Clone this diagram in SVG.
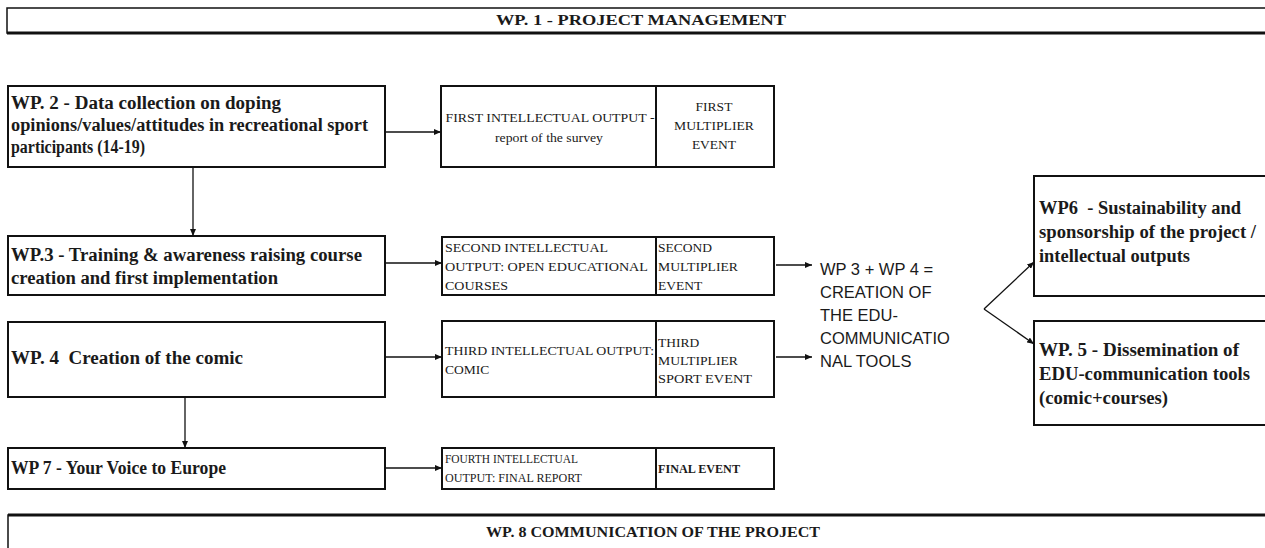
<svg xmlns="http://www.w3.org/2000/svg" width="1265" height="548" viewBox="0 0 1265 548">
  <defs>
    <marker id="arrow" markerWidth="8" markerHeight="6" refX="7" refY="3" orient="auto" markerUnits="userSpaceOnUse">
      <path d="M0,0 L7,3 L0,6 Z" fill="#111"/>
    </marker>
    <style>
      .box { fill: #fff; stroke: #111; stroke-width: 2; }
      .div { stroke: #111; stroke-width: 2; }
      .wp { font-family: "Liberation Serif", "Times New Roman", serif; font-weight: bold; font-size: 18px; fill: #1a1a1a; }
      .bar { font-family: "Liberation Serif", "Times New Roman", serif; font-weight: bold; font-size: 14px; fill: #1a1a1a; }
      .io { font-family: "Liberation Serif", "Times New Roman", serif; font-size: 13.5px; fill: #1a1a1a; }
      .small { font-family: "Liberation Serif", "Times New Roman", serif; font-size: 12px; fill: #1a1a1a; }
      .sum { font-family: "Liberation Sans", Arial, sans-serif; font-size: 16.5px; fill: #1a1a1a; }
      .conn { stroke: #111; stroke-width: 1.3; fill: none; marker-end: url(#arrow); }
    </style>
  </defs>
  <rect width="1265" height="548" fill="#fff"/>

  <!-- Work package 1: management bar across the top -->
  <g id="wp1">
    <rect x="7" y="8" width="1270" height="25" fill="#fff" stroke="#111" stroke-width="1.5"/>
    <line x1="7" y1="33" x2="1265" y2="33" stroke="#111" stroke-width="3"/>
    <text class="bar" x="641" y="25" text-anchor="middle" textLength="290" lengthAdjust="spacingAndGlyphs">WP. 1 - PROJECT MANAGEMENT</text>
  </g>

  <!-- Work packages on the left -->
  <g id="wp2">
    <rect class="box" x="8" y="86" width="377" height="81"/>
    <text class="wp" x="11" y="109" textLength="270" lengthAdjust="spacingAndGlyphs">WP. 2 - Data collection on doping</text>
    <text class="wp" x="11" y="131" textLength="357" lengthAdjust="spacingAndGlyphs">opinions/values/attitudes in recreational sport</text>
    <text class="wp" x="11" y="153" textLength="134" lengthAdjust="spacingAndGlyphs">participants (14-19)</text>
  </g>
  <g id="wp3">
    <rect class="box" x="8" y="236" width="377" height="59"/>
    <text class="wp" x="11" y="261" textLength="351" lengthAdjust="spacingAndGlyphs">WP.3 - Training &amp; awareness raising course</text>
    <text class="wp" x="11" y="284" textLength="267" lengthAdjust="spacingAndGlyphs">creation and first implementation</text>
  </g>
  <g id="wp4">
    <rect class="box" x="8" y="322" width="377" height="75"/>
    <text class="wp" x="11" y="364" textLength="232" lengthAdjust="spacingAndGlyphs" xml:space="preserve">WP. 4  Creation of the comic</text>
  </g>
  <g id="wp7">
    <rect class="box" x="8" y="448" width="377" height="41"/>
    <text class="wp" x="11" y="474" textLength="215" lengthAdjust="spacingAndGlyphs">WP 7 - Your Voice to Europe</text>
  </g>

  <!-- Intellectual outputs and multiplier events -->
  <g id="output1">
    <rect class="box" x="441" y="86" width="333" height="81"/>
    <line class="div" x1="656" y1="86" x2="656" y2="167"/>
    <text class="io" x="550" y="122" text-anchor="middle" textLength="209" lengthAdjust="spacingAndGlyphs">FIRST INTELLECTUAL OUTPUT -</text>
    <text class="small" x="549" y="142" text-anchor="middle" textLength="108" lengthAdjust="spacingAndGlyphs">report of the survey</text>
    <text class="io" x="714" y="111" text-anchor="middle">FIRST</text>
    <text class="io" x="714" y="130" text-anchor="middle" textLength="80" lengthAdjust="spacingAndGlyphs">MULTIPLIER</text>
    <text class="io" x="714" y="149" text-anchor="middle">EVENT</text>
  </g>
  <g id="output2">
    <rect class="box" x="442" y="237" width="332" height="58"/>
    <line class="div" x1="656" y1="237" x2="656" y2="295"/>
    <text class="io" x="445" y="252" textLength="163" lengthAdjust="spacingAndGlyphs">SECOND INTELLECTUAL</text>
    <text class="io" x="445" y="271" textLength="203" lengthAdjust="spacingAndGlyphs">OUTPUT: OPEN EDUCATIONAL</text>
    <text class="io" x="445" y="290" textLength="63" lengthAdjust="spacingAndGlyphs">COURSES</text>
    <text class="io" x="658" y="252">SECOND</text>
    <text class="io" x="658" y="271" textLength="80" lengthAdjust="spacingAndGlyphs">MULTIPLIER</text>
    <text class="io" x="658" y="290">EVENT</text>
  </g>
  <g id="output3">
    <rect class="box" x="442" y="321" width="332" height="76"/>
    <line class="div" x1="656" y1="321" x2="656" y2="397"/>
    <text class="io" x="445" y="355" textLength="209" lengthAdjust="spacingAndGlyphs">THIRD INTELLECTUAL OUTPUT:</text>
    <text class="io" x="445" y="374">COMIC</text>
    <text class="io" x="658" y="347">THIRD</text>
    <text class="io" x="658" y="365" textLength="80" lengthAdjust="spacingAndGlyphs">MULTIPLIER</text>
    <text class="io" x="658" y="383" textLength="94" lengthAdjust="spacingAndGlyphs">SPORT EVENT</text>
  </g>
  <g id="output4">
    <rect class="box" x="442" y="448" width="332" height="41"/>
    <line class="div" x1="656" y1="448" x2="656" y2="489"/>
    <text class="small" x="445" y="463" textLength="133" lengthAdjust="spacingAndGlyphs">FOURTH INTELLECTUAL</text>
    <text class="small" x="445" y="482" textLength="137" lengthAdjust="spacingAndGlyphs">OUTPUT: FINAL REPORT</text>
    <text class="small" x="658" y="473" font-weight="bold" textLength="82" lengthAdjust="spacingAndGlyphs">FINAL EVENT</text>
  </g>

  <!-- Combined result of WP3 and WP4 -->
  <g id="edu-tools">
    <text class="sum" x="820" y="275">WP 3 + WP 4 =</text>
    <text class="sum" x="820" y="298">CREATION OF</text>
    <text class="sum" x="820" y="321">THE EDU-</text>
    <text class="sum" x="820" y="344">COMMUNICATIO</text>
    <text class="sum" x="820" y="367">NAL TOOLS</text>
  </g>

  <!-- Work packages on the right -->
  <g id="wp6">
    <rect class="box" x="1034" y="176" width="240" height="120"/>
    <text class="wp" x="1039" y="214" textLength="202" lengthAdjust="spacingAndGlyphs" xml:space="preserve">WP6  - Sustainability and</text>
    <text class="wp" x="1039" y="238" textLength="217" lengthAdjust="spacingAndGlyphs">sponsorship of the project /</text>
    <text class="wp" x="1039" y="262" textLength="151" lengthAdjust="spacingAndGlyphs">intellectual outputs</text>
  </g>
  <g id="wp5">
    <rect class="box" x="1034" y="321" width="240" height="104"/>
    <text class="wp" x="1039" y="356" textLength="200" lengthAdjust="spacingAndGlyphs">WP. 5 - Dissemination of</text>
    <text class="wp" x="1039" y="380" textLength="211" lengthAdjust="spacingAndGlyphs">EDU-communication tools</text>
    <text class="wp" x="1039" y="404" textLength="129" lengthAdjust="spacingAndGlyphs">(comic+courses)</text>
  </g>

  <!-- Work package 8: communication bar along the bottom -->
  <g id="wp8">
    <rect x="8" y="515" width="1270" height="40" fill="#fff" stroke="#111" stroke-width="1.5"/>
    <line x1="8" y1="515" x2="1265" y2="515" stroke="#111" stroke-width="3"/>
    <text class="bar" x="653" y="537" text-anchor="middle" textLength="334" lengthAdjust="spacingAndGlyphs">WP. 8 COMMUNICATION OF THE PROJECT</text>
  </g>

  <!-- Connectors -->
  <g id="connectors">
    <line class="conn" x1="385" y1="132" x2="441" y2="132"/>
    <line class="conn" x1="193" y1="167" x2="193" y2="236"/>
    <line class="conn" x1="385" y1="263" x2="442" y2="263"/>
    <line class="conn" x1="385" y1="357" x2="442" y2="357"/>
    <line class="conn" x1="185" y1="397" x2="185" y2="448"/>
    <line class="conn" x1="385" y1="468" x2="442" y2="468"/>
    <line class="conn" x1="776" y1="265" x2="812" y2="265"/>
    <line class="conn" x1="776" y1="357" x2="812" y2="357"/>
    <line class="conn" x1="984" y1="309" x2="1034" y2="262"/>
    <line class="conn" x1="984" y1="309" x2="1034" y2="344"/>
  </g>
</svg>
